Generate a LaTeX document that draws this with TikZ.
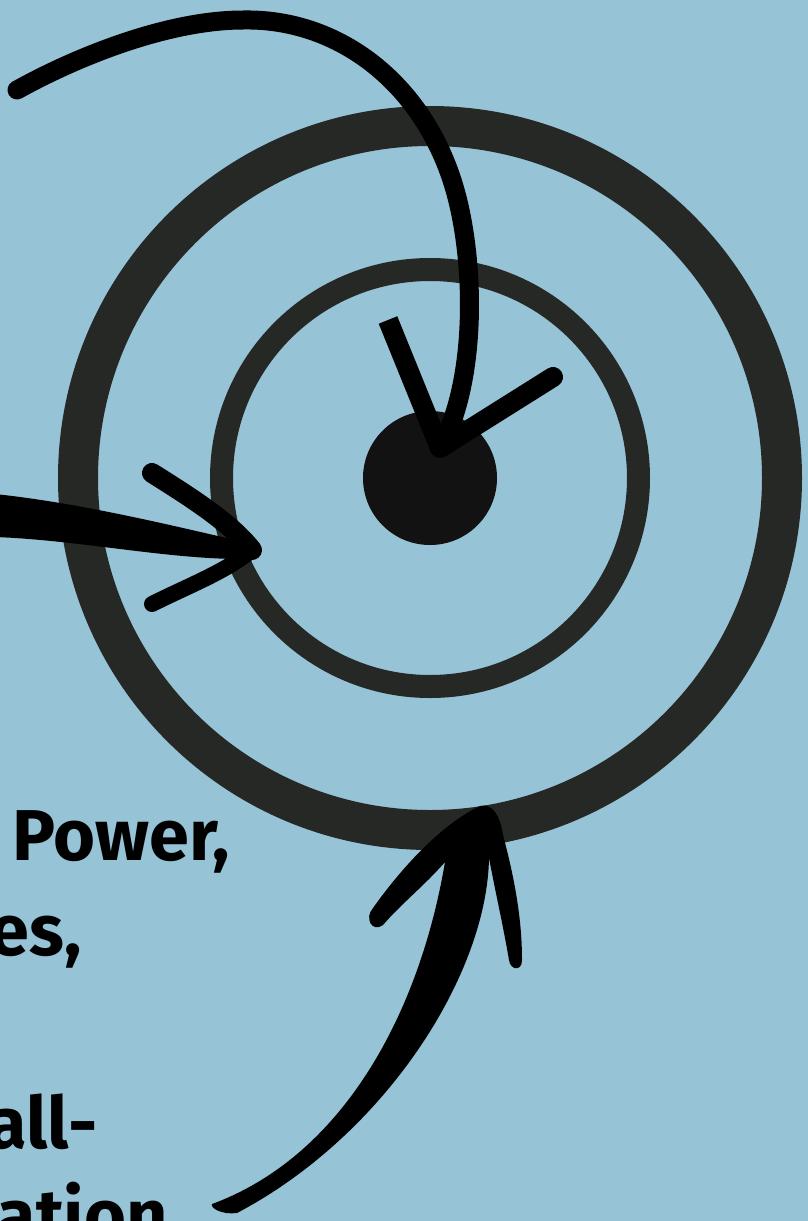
\documentclass[tikz,border=0pt]{standalone}
\usepackage{fontspec}
\setmainfont{Fira Sans}
\definecolor{bg}{HTML}{96C3D6}
\definecolor{ringc}{HTML}{262825}
\definecolor{dotc}{HTML}{121212}
\begin{document}
\begin{tikzpicture}[x=1pt,y=-1pt,
  lbl/.style={font=\fontsize{72}{95}\selectfont\bfseries, inner sep=0pt, text=black},
  ringline/.style={draw=ringc},
  brush/.style={draw=black, line cap=round, line join=round}]
\fill[bg] (0,0) rectangle (808,1221);
\useasboundingbox (0,0) rectangle (808,1221);
\coordinate (c) at (430,478);
% rings and centre
\draw[ringline, line width=40pt] (c) circle[radius=352pt];
\draw[ringline, line width=23pt] (c) circle[radius=208.5pt];
\fill[dotc] (c) circle[radius=67pt];
% top arrow
\coordinate (tA) at (17,90);
\coordinate (tB) at (243,20);
\coordinate (tC) at (455,190);
\coordinate (tip1) at (440,448);
\draw[brush, line width=19pt] (tA) .. controls (80,55) and (170,20) .. (tB)
  .. controls (340,18) and (425,85) .. (tC)
  .. controls (475,260) and (478,380) .. (tip1);
\coordinate (b1) at (388,320);
\coordinate (b2) at (553,377);
\draw[draw=black, line width=20pt, line cap=butt] (b1) -- (tip1);
\draw[brush, line width=20pt] (tip1) -- (b2);
% left arrow
\coordinate (tip2) at (252,550);
\fill[black] (-5,494) .. controls (80,503) and (170,525) .. (248,543)
  .. controls (262,546) and (262,556) .. (248,559)
  .. controls (170,560) and (80,540) .. (-5,537) -- cycle;
\draw[brush, line width=20pt] (152,473) .. controls (190,497) and (230,522) .. (tip2);
\draw[brush, line width=16pt] (152,604) .. controls (190,585) and (225,572) .. (tip2);
% bottom arrow
\fill[black] (212,1204) .. controls (345,1155) and (420,1010) .. (445,862)
  .. controls (425,885) and (400,905) .. (383,925)
  .. controls (372,933) and (364,918) .. (373,908)
  .. controls (400,870) and (440,825) .. (480,806)
  .. controls (492,803) and (500,815) .. (503,835)
  .. controls (515,880) and (522,920) .. (522,960)
  .. controls (522,972) and (510,970) .. (509,960)
  .. controls (503,925) and (495,890) .. (489,858)
  .. controls (487,975) and (385,1135) .. (237,1213)
  .. controls (222,1215) and (210,1208) .. (212,1204) -- cycle;
% text
\node[lbl, anchor=base west] (t1) at (12,860) {Power,};
\node[lbl, anchor=base east] (t2) at (82,955) {es,};
\node[lbl, anchor=base east] (t3) at (98,1148) {all-};
\node[lbl, anchor=base east] (t4) at (168,1240) {ation};
\end{tikzpicture}
\end{document}
